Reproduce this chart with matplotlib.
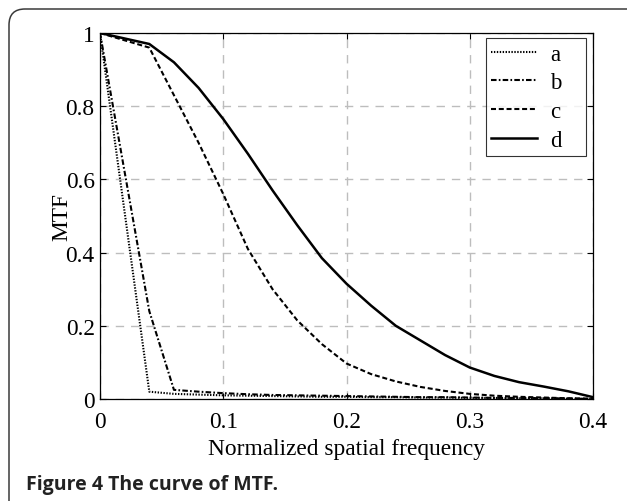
import matplotlib
matplotlib.use("Agg")
import matplotlib.pyplot as plt
from matplotlib.path import Path
from matplotlib.patches import PathPatch

freq = [0.00, 0.02, 0.04, 0.06, 0.08, 0.10, 0.12, 0.14, 0.16, 0.18, 0.20,
        0.22, 0.24, 0.26, 0.28, 0.30, 0.32, 0.34, 0.36, 0.38, 0.40]
mtf_a = [1.0, 0.51, 0.02, 0.014, 0.012, 0.010, 0.009, 0.008, 0.007, 0.006, 0.006,
         0.005, 0.005, 0.004, 0.004, 0.003, 0.003, 0.002, 0.002, 0.001, 0.0]
mtf_b = [1.0, 0.62, 0.24, 0.025, 0.020, 0.016, 0.013, 0.011, 0.010, 0.009, 0.008,
         0.007, 0.006, 0.005, 0.005, 0.004, 0.003, 0.003, 0.002, 0.001, 0.0]
mtf_c = [1.0, 0.98, 0.96, 0.83, 0.70, 0.56, 0.41, 0.30, 0.215, 0.15, 0.097,
         0.068, 0.048, 0.033, 0.022, 0.014, 0.009, 0.006, 0.004, 0.002, 0.001]
mtf_d = [1.0, 0.985, 0.97, 0.92, 0.85, 0.765, 0.67, 0.57, 0.475, 0.385, 0.315,
         0.255, 0.20, 0.16, 0.12, 0.086, 0.063, 0.046, 0.034, 0.021, 0.005]
labels = ["a", "b", "c", "d"]
xticks = [0, 0.1, 0.2, 0.3, 0.4]
xticklabels = ["0", "0.1", "0.2", "0.3", "0.4"]
yticks = [0, 0.2, 0.4, 0.6, 0.8, 1.0]
yticklabels = ["0", "0.2", "0.4", "0.6", "0.8", "1"]

plt.rcParams['lines.scale_dashes'] = False
serif = "Liberation Serif"
fs = 16.8

W, H = 627, 502
fig = plt.figure(figsize=(W / 100, H / 100), dpi=100)
ax = fig.add_axes([100 / W, 1 - 400 / H, 493 / W, 366 / H])

ax.plot(freq, mtf_a, color="black", lw=1.5, dashes=(1.0, 1.1), label=labels[0])
ax.plot(freq, mtf_b, color="black", lw=1.5, dashes=(4.0, 1.6, 1.2, 1.6), label=labels[1])
ax.plot(freq, mtf_c, color="black", lw=1.5, dashes=(3.6, 2.0), label=labels[2])
ax.plot(freq, mtf_d, color="black", lw=1.8, label=labels[3])

ax.set_xlim(0, 0.4)
ax.set_ylim(0, 1)
ax.set_xticks(xticks)
ax.set_xticklabels(xticklabels, family=serif, fontsize=fs)
ax.set_yticks(yticks)
ax.set_yticklabels(yticklabels, family=serif, fontsize=fs)
ax.tick_params(direction="in", length=4, width=0.8, top=True, right=True)
ax.tick_params(axis="x", pad=8.5)
ax.tick_params(axis="y", pad=3.8)
ax.grid(True, color="#bdbdbd", lw=1.0, dashes=(6, 5))
for s in ax.spines.values():
    s.set_linewidth(0.9)

ax.set_xlabel("Normalized spatial frequency", family=serif, fontsize=fs)
ax.set_ylabel("MTF", family=serif, fontsize=fs)
ax.xaxis.set_label_coords(0.5, (400 - 439) / 366)
ax.yaxis.set_label_coords((72 - 100) / 493, 0.5)

x0 = (485.7 - 100) / 493
x1 = (585.7 - 100) / 493
y1 = (400 - 39) / 366
y0 = (400 - 154) / 366
leg = ax.legend(loc="upper left", bbox_to_anchor=(x0, y0, x1 - x0, y1 - y0),
                mode="expand", borderaxespad=0,
                fancybox=False, frameon=True, prop={"family": serif, "size": 16.5},
                handlelength=2.0, handletextpad=0.55, labelspacing=0.33,
                borderpad=0.25, edgecolor="black")
leg.get_frame().set_linewidth(0.8)

# figure border: top-left rounded corner
r = 16
verts = [(9 / W, 0), (9 / W, 1 - (10 + r) / H),
         (9 / W, 1 - 10 / H), ((9 + r) / W, 1 - 10 / H),
         (1, 1 - 10 / H)]
codes = [Path.MOVETO, Path.LINETO, Path.CURVE3, Path.CURVE3, Path.LINETO]
fig.patches.append(PathPatch(Path(verts, codes), transform=fig.transFigure,
                             fill=False, edgecolor="#3a3a3a", lw=1.1))

fig.text(26 / W, 1 - 490 / H, "Figure 4 The curve of MTF.", family="Open Sans",
         weight="bold", fontsize=14, color="#222222", va="baseline")

fig.savefig("out.png", dpi=100)
